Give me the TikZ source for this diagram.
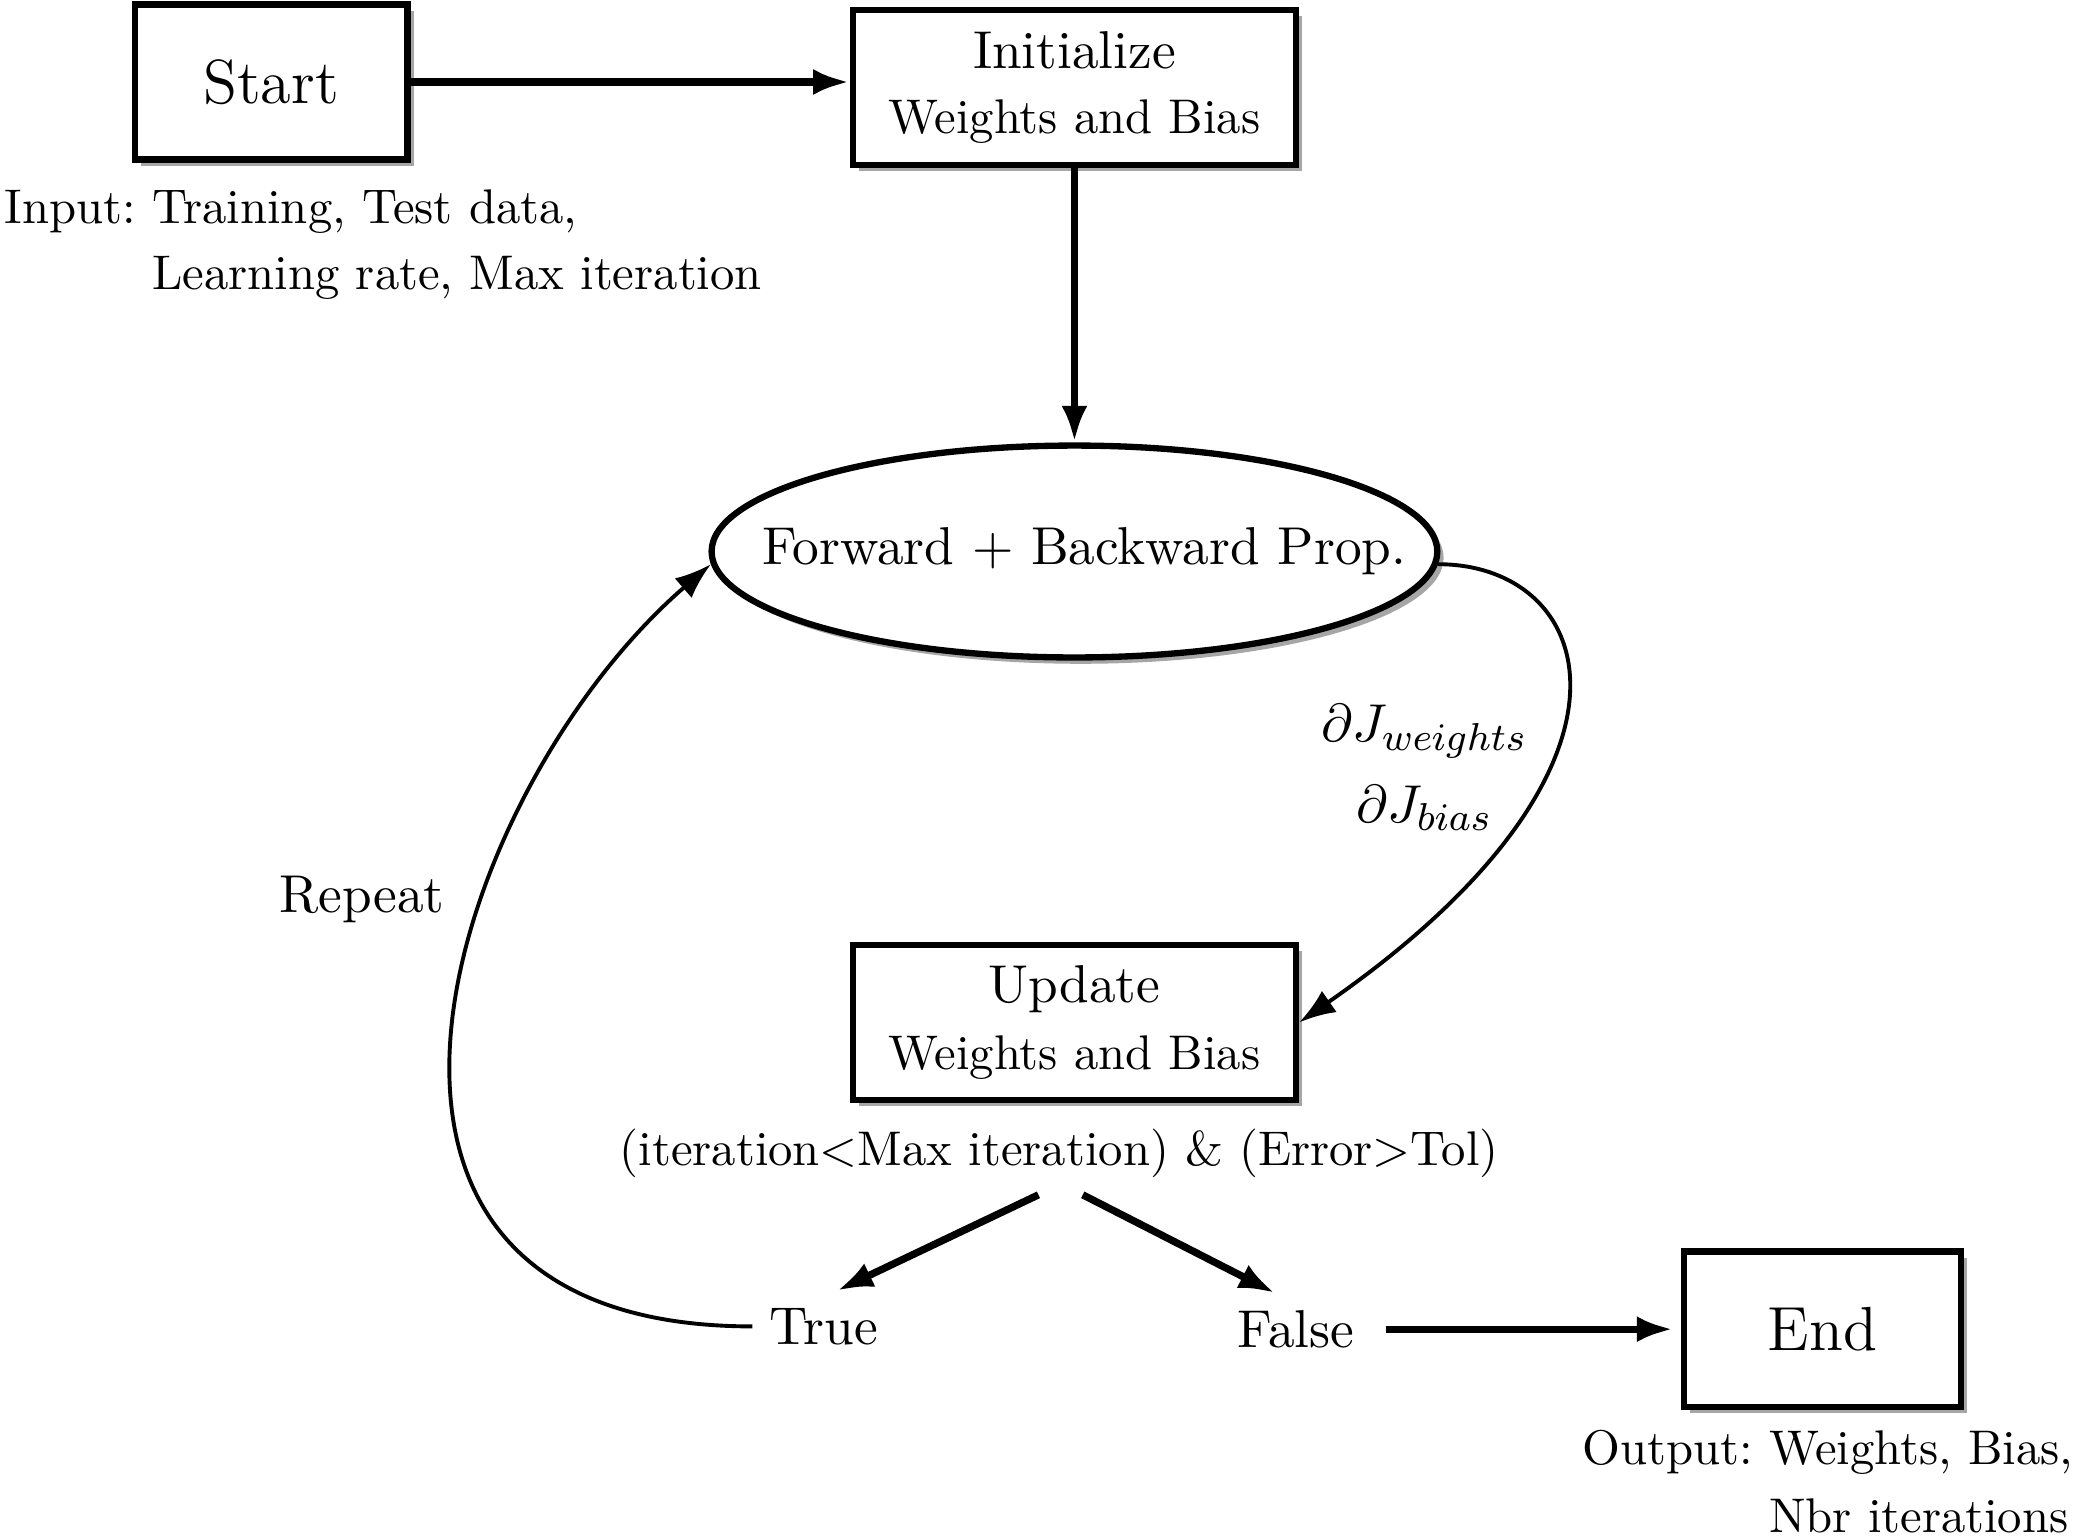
\documentclass[tikz,border=0pt]{standalone}
\usepackage{amsmath,amssymb}
\usepackage{tikz}
\usetikzlibrary{arrows.meta, positioning, shapes.geometric, shadows}
\newcommand{\elevenpt}{\fontsize{10.95}{13.6}\selectfont}
\newcommand{\terminalpt}{\fontsize{12.8}{15}\selectfont}

\begin{document}
\begin{tikzpicture}[->,>={Latex[length=7.5pt,width=5.3pt]},auto,node distance=2.5cm,
    boxshadow/.style={drop shadow={shadow xshift=1.3pt, shadow yshift=-1.3pt, fill=black!35, opacity=1}},
    block/.style={rectangle, draw, line width=1.3pt, fill=white, align=center,
                  minimum width=3.2cm, minimum height=1.12cm, boxshadow},
    blob/.style={ellipse, draw, line width=1.3pt, fill=white, font=\elevenpt,
                 minimum width=5.24cm, minimum height=1.53cm, inner xsep=-0.65cm, inner ysep=0pt, boxshadow},
    tag/.style={font=\elevenpt},
    flow/.style={line width=1.5pt},
    curvy/.style={line width=0.8pt}]
  \useasboundingbox (-1.958,0.592) rectangle (13.017,-10.495);

  \node[block, minimum width=1.97cm, font=\terminalpt] (start)             {Start};
  \node[block]  (init)   [right of=start, node distance=5.80cm, yshift=-0.04cm]
                         {{\elevenpt Initialize}\\[1.2pt]Weights and Bias};
  \node[blob]   (fb)     [below of=init, node distance=3.35cm]             {\hspace{0.14cm}Forward $+$ Backward Prop.};
  \node[block]  (update) [below of=fb, node distance=3.40cm]               {{\elevenpt Update}\\[1.8pt]Weights and Bias};
  \node         (cond)   [below of=update, node distance=0.945cm, xshift=-0.11cm]
                         {(iteration${<}$Max iteration) \& (Error${>}$Tol)};
  \node[tag]    (true)   [below of=cond, node distance=1.25cm, xshift=-1.70cm] {True};
  \node[tag]    (false)  [below of=cond, node distance=1.27cm, xshift=1.71cm]  {False};
  \node[block, minimum width=2.0cm, font=\terminalpt] (end) [right of=false, node distance=3.80cm] {End};

  % inputs and outputs
  \node (input)  [below of=start, node distance=1.175cm, xshift=0.81cm]
    {\begin{tabular}{@{}l@{\ }l@{}}Input: & Training, Test data,\\[1.6pt] & Learning rate, Max iteration\end{tabular}};
  \node (output) [below of=end, node distance=1.14cm, xshift=0.04cm]
    {\begin{tabular}{@{}l@{\ }l@{}}Output: & Weights, Bias,\\[1.9pt] & Nbr iterations\end{tabular}};

  \path[flow]
        (start.east) edge (start.east -| init.west)
        (init)  edge (fb)
        ([xshift=-0.15cm]cond.south) edge (true.70)
        ([xshift=0.17cm]cond.south)  edge (false.120)
        (false) edge [shorten <=3pt, shorten >=1.5pt] (end);

  % loop
  \draw[curvy] (fb.-2) .. controls +(1.146,0) and +(2.663,1.851) .. (update.east)
        node [tag, pos=0.63, left, align=center] {$\partial J_{weights}$\\[3pt]$\partial J_{bias}$};
  \draw[curvy] (true.west) .. controls +(-3.465,0) and +(-1.879,-1.622) .. (fb.182)
        node [tag, pos=0.63, left=0.16cm] {Repeat};
\end{tikzpicture}
\end{document}
